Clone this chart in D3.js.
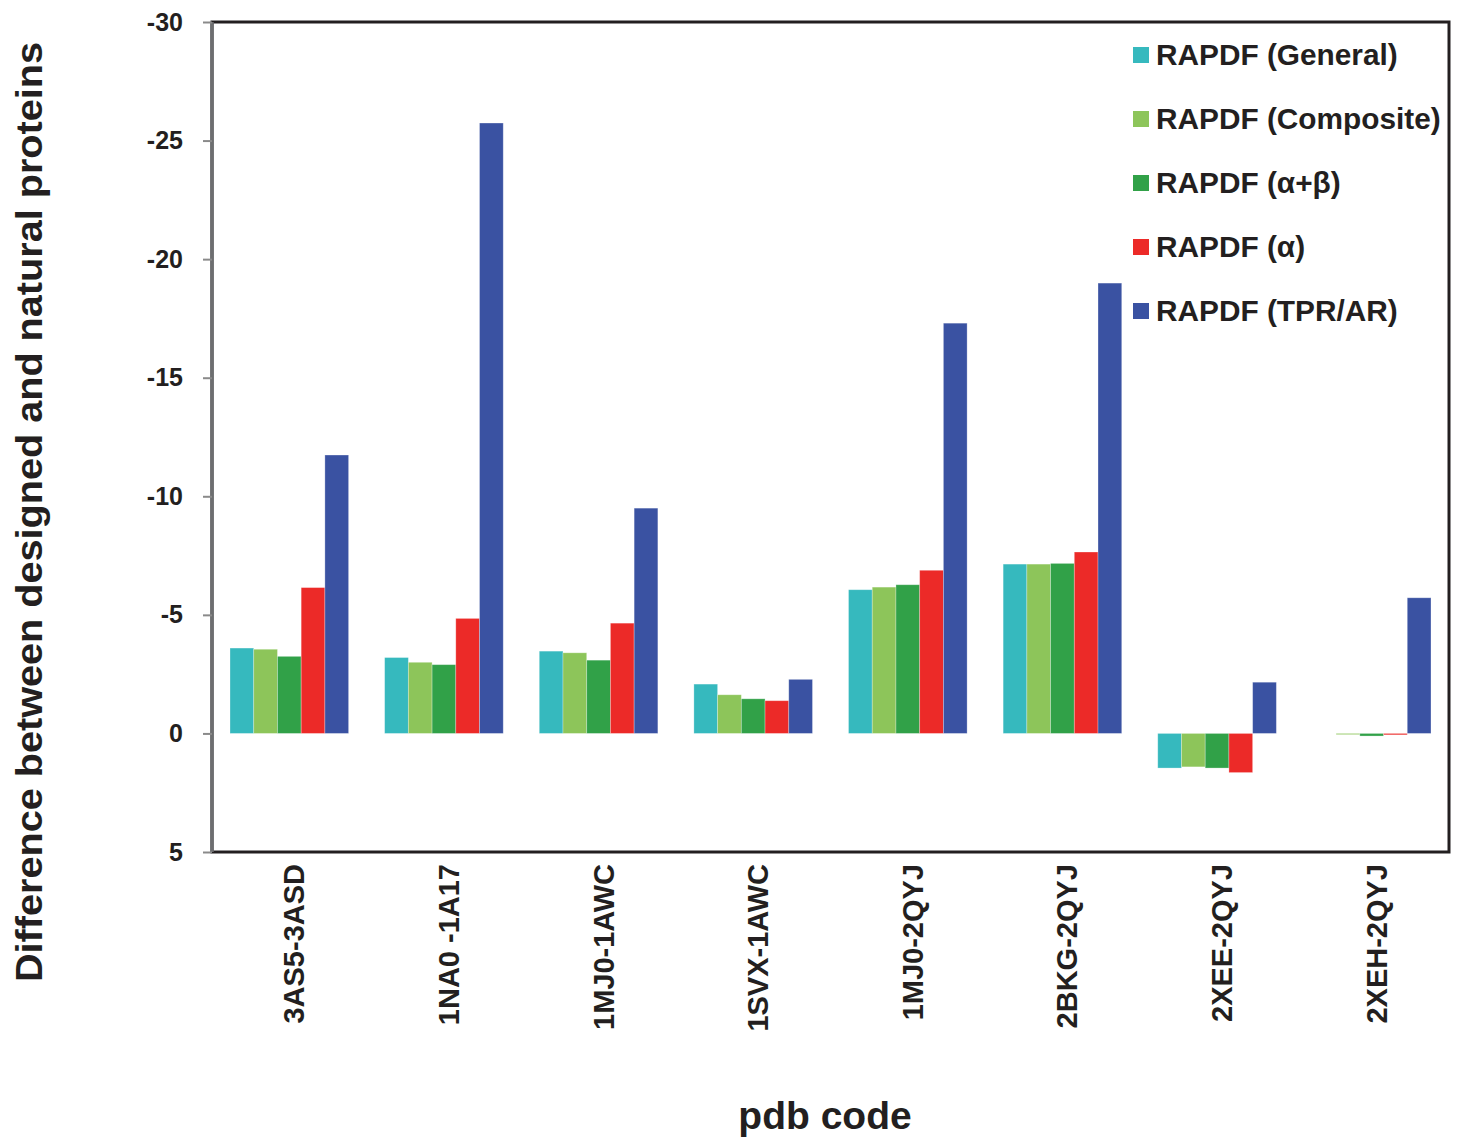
<!DOCTYPE html>
<html>
<head>
<meta charset="utf-8">
<script src="https://cdn.jsdelivr.net/npm/d3@7"></script>
<style>
  body { margin: 0; background: #fff; }
  text { font-family: "Liberation Sans", Arial, sans-serif; font-weight: bold; fill: #231f20; }
</style>
</head>
<body>
<div id="chart-area"></div>
<script>
// Data (energy differences, negative = designed better)
var pairs = ["3AS5-3ASD", "1NA0 -1A17", "1MJ0-1AWC", "1SVX-1AWC", "1MJ0-2QYJ", "2BKG-2QYJ", "2XEE-2QYJ", "2XEH-2QYJ"];
var seriesNames = ["RAPDF (General)", "RAPDF (Composite)", "RAPDF (\u03b1+\u03b2)", "RAPDF (\u03b1)", "RAPDF (TPR/AR)"];
var general   = [-3.6, -3.2, -3.47, -2.08, -6.06, -7.14, 1.46, 0];
var composite = [-3.55, -3.0, -3.4, -1.63, -6.17, -7.14, 1.41, 0.05];
var alphaBeta = [-3.25, -2.9, -3.09, -1.46, -6.27, -7.17, 1.46, 0.11];
var alpha     = [-6.15, -4.85, -4.65, -1.38, -6.88, -7.65, 1.65, 0.06];
var tprAr     = [-11.74, -25.74, -9.5, -2.28, -17.3, -18.99, -2.16, -5.72];
var yTicks = [-30, -25, -20, -15, -10, -5, 0, 5];
var colors = ["#36b9be", "#8dc55a", "#31a148", "#ec2a28", "#3a52a2"];

var seriesValues = [general, composite, alphaBeta, alpha, tprAr];

var margin = {top: 22, right: 8, bottom: 285, left: 212};
var width = 1457 - margin.left - margin.right,
    height = 1137 - margin.top - margin.bottom;

var svg = d3.select("#chart-area").append("svg")
    .attr("width", width + margin.left + margin.right)
    .attr("height", height + margin.top + margin.bottom)
    .append("g")
    .attr("transform", `translate(${margin.left}, ${margin.top})`);

// Scales
var x0 = d3.scaleBand()
    .domain(pairs)
    .range([0, width])
    .paddingInner(0.233)
    .paddingOuter(0.1165);

var x1 = d3.scaleBand()
    .domain(d3.range(seriesNames.length))
    .range([0, x0.bandwidth()]);

var y = d3.scaleLinear()
    .domain([5, -30])
    .range([height, 0]);

// Bars
var groups = svg.selectAll(".group")
    .data(pairs)
    .join("g")
    .attr("class", "group")
    .attr("transform", d => `translate(${x0(d)},0)`);

groups.selectAll("rect")
    .data((d, i) => seriesValues.map((s, k) => ({k: k, v: s[i]})))
    .join("rect")
    .attr("x", d => x1(d.k))
    .attr("width", x1.bandwidth())
    .attr("y", d => Math.min(y(0), y(d.v)))
    .attr("height", d => Math.abs(y(d.v) - y(0)))
    .attr("fill", d => colors[d.k])
    .attr("stroke", "#ffffff")
    .attr("stroke-opacity", 0.35)
    .attr("stroke-width", 0.8);

// Frame
svg.append("rect")
    .attr("x", 0).attr("y", 0)
    .attr("width", width).attr("height", height)
    .attr("fill", "none")
    .attr("stroke", "#231f20")
    .attr("stroke-width", 3);

// Y axis
var yAxis = d3.axisLeft(y)
    .tickValues(yTicks)
    .tickSize(9)
    .tickPadding(20)
    .tickFormat(d => String(d));

var yg = svg.append("g")
    .attr("class", "y-axis")
    .call(yAxis);
yg.select(".domain").attr("stroke", "#6d6e70").attr("stroke-width", 3.5).attr("d", `M0,0V${height}`);
yg.selectAll(".tick line").attr("stroke", "#8a8a8a").attr("stroke-width", 2);
yg.selectAll(".tick text")
    .style("font-size", "25px")
    .attr("fill", "#231f20");

// Category labels (rotated)
svg.selectAll(".x-label")
    .data(pairs)
    .join("text")
    .attr("class", "x-label")
    .attr("transform", d => `translate(${x0(d) + x0.bandwidth() / 2 + 15}, ${height + 12}) rotate(-90)`)
    .attr("text-anchor", "end")
    .style("font-size", "29px")
    .text(d => d);

// Axis titles
svg.append("text")
    .attr("transform", `translate(${-margin.left + 42}, ${(height) / 2 + 75}) rotate(-90)`)
    .attr("text-anchor", "middle")
    .attr("textLength", 940)
    .attr("lengthAdjust", "spacingAndGlyphs")
    .style("font-size", "36px")
    .text("Difference between designed and natural proteins");

svg.append("text")
    .attr("x", 825 - margin.left)
    .attr("y", 1129 - margin.top)
    .attr("text-anchor", "middle")
    .style("font-size", "39px")
    .text("pdb code");

// Legend
var legend = svg.selectAll(".legend")
    .data(seriesNames)
    .join("g")
    .attr("class", "legend")
    .attr("transform", (d, i) => `translate(${1133 - margin.left}, ${55 - margin.top + i * 64})`);

legend.append("rect")
    .attr("x", 0).attr("y", -8)
    .attr("width", 16).attr("height", 16)
    .attr("fill", (d, i) => colors[i]);

legend.append("text")
    .attr("x", 23)
    .attr("y", 10)
    .style("font-size", "29.8px")
    .text(d => d);
</script>
</body>
</html>
